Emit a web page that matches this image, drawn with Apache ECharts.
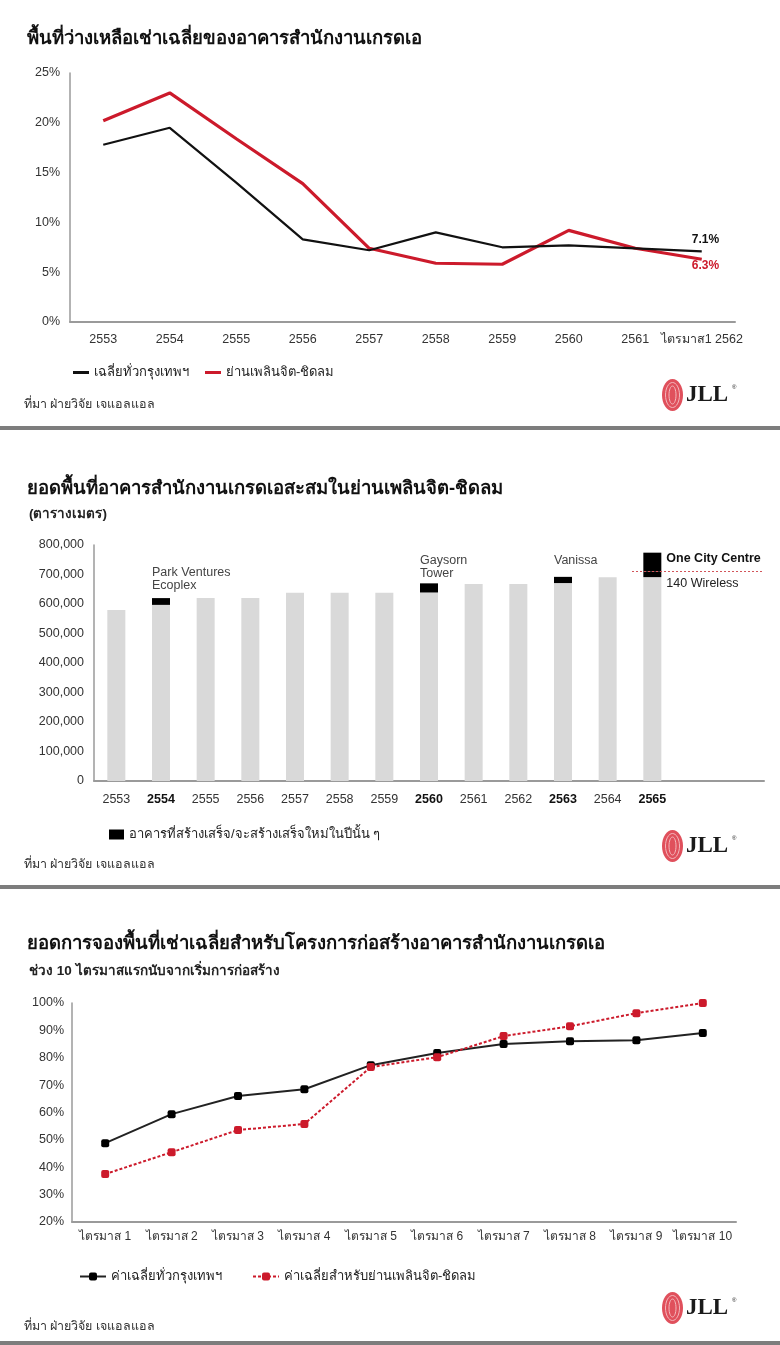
<!DOCTYPE html>
<html><head><meta charset="utf-8">
<script src="https://cdn.jsdelivr.net/npm/echarts@6/dist/echarts.min.js"></script>
<style>html,body{margin:0;padding:0;background:#fff}#c{width:780px;height:1345px}</style>
</head><body><div id="c"></div>
<script>
// ---- Chart 1 data: vacancy rate (%)
const years1 = ['2553','2554','2555','2556','2557','2558','2559','2560','2561','ไตรมาส1 2562'];
const bkkVacancy = [17.8, 19.5, 14.0, 8.3, 7.2, 9.0, 7.5, 7.7, 7.4, 7.1];
const ploenchitVacancy = [20.2, 23.0, 18.4, 13.9, 7.4, 5.9, 5.8, 9.2, 7.4, 6.3];
const vacancyTicks = [0, 25, 5];

// ---- Chart 2 data: cumulative Grade A stock (sq m)
const years2 = ['2553','2554','2555','2556','2557','2558','2559','2560','2561','2562','2563','2564','2565'];
const boldYears = ['2554','2560','2563','2565'];
const existingStock = [580000, 597000, 620000, 620000, 638000, 638000, 638000, 639000, 668000, 668000, 671000, 691000, 691000];
const newSupply = [null, 23000, null, null, null, null, null, 31000, null, null, 21000, null, 20000];
const newSupplyTop = [null, null, null, null, null, null, null, null, null, null, null, null, 63000];
const projectNames = ['', 'Park Ventures\nEcoplex', '', '', '', '', '', 'Gaysorn\nTower', '', '', 'Vanissa', '', '140 Wireless'];
const projectNamesTop = ['', '', '', '', '', '', '', '', '', '', '', '', 'One City Centre'];
const stockTicks = [0, 800000, 100000];

// ---- Chart 3 data: pre-leasing (%)
const quarters = ['ไตรมาส 1','ไตรมาส 2','ไตรมาส 3','ไตรมาส 4','ไตรมาส 5','ไตรมาส 6','ไตรมาส 7','ไตรมาส 8','ไตรมาส 9','ไตรมาส 10'];
const bkkPreLease = [48.8, 59.4, 66.0, 68.5, 77.3, 81.7, 85.0, 86.0, 86.4, 89.0];
const ploenchitPreLease = [37.5, 45.5, 53.6, 55.8, 76.6, 80.2, 87.9, 91.5, 96.3, 100];
const preLeaseTicks = [20, 100, 10];

const FONT = '"Liberation Sans", Arial, "Noto Sans", "DejaVu Sans", sans-serif';
const RED = '#cc1a2b';
const AX = '#9a9a9a';
const LBL = '#333';
const AXF = 12.5;

const chart = echarts.init(document.getElementById('c'));

function jllLogo(x, y) {
  return { type: 'group', x: x, y: y, children: [
    { type: 'ellipse', shape: { cx: 10.5, cy: 16, rx: 10.5, ry: 16 }, style: { fill: '#e0505c' } },
    { type: 'ellipse', shape: { cx: 10.5, cy: 16, rx: 7, ry: 12.5 }, style: { fill: 'none', stroke: '#f4b8bd', lineWidth: 1 } },
    { type: 'ellipse', shape: { cx: 10.5, cy: 16, rx: 3.5, ry: 9 }, style: { fill: 'none', stroke: '#f4b8bd', lineWidth: 1 } },
    { type: 'text', x: 24, y: 5, style: { text: 'JLL', font: 'bold 23px "Liberation Serif", serif', fill: '#1a1a1a' } },
    { type: 'text', x: 70, y: 5, style: { text: '®', font: '6px sans-serif', fill: '#1a1a1a' } }
  ]};
}
function sep(y) {
  return { type: 'rect', shape: { x: 0, y: y, width: 780, height: 4 }, style: { fill: '#7d7d7d' } };
}
function source(y) {
  return { type: 'text', x: 24, y: y, style: { text: 'ที่มา ฝ่ายวิจัย เจแอลแอล', font: '12.5px ' + FONT, fill: '#333' } };
}

const labelDist = [0, 6, 0, 0, 0, 0, 0, 3, 0, 0, 10, 0, 0];
const newData = newSupply.map((v, i) => {
  if (v == null) return null;
  if (i === 12) return { value: v, label: { show: true, position: 'right', distance: 5, offset: [0, 9], formatter: projectNames[i], color: '#222', fontSize: 12.5, fontFamily: FONT } };
  return { value: v, label: { show: true, position: 'top', align: 'left', distance: labelDist[i], offset: [-9, 0], formatter: projectNames[i], color: '#444', fontSize: 12.5, lineHeight: 13, fontFamily: FONT } };
});
const newTopData = newSupplyTop.map((v, i) => v == null ? null : { value: v, label: { show: true, position: 'right', distance: 5, offset: [0, -3], formatter: projectNamesTop[i], color: '#111', fontWeight: 'bold', fontSize: 12.5, fontFamily: FONT } });

const cats2 = years2.concat([' ', '  ']);
const NEWNAME = 'อาคารที่สร้างเสร็จ/จะสร้างเสร็จใหม่ในปีนั้น ๆ';
const dividerValue = existingStock[12] + newSupply[12];

chart.setOption({
  animation: false,
  textStyle: { fontFamily: FONT },
  title: [
    { text: 'พื้นที่ว่างเหลือเช่าเฉลี่ยของอาคารสำนักงานเกรดเอ', left: 22, top: 24, textStyle: { fontSize: 18.5, fontWeight: 'bold', color: '#111', fontFamily: FONT } },
    { text: 'ยอดพื้นที่อาคารสำนักงานเกรดเอสะสมในย่านเพลินจิต-ชิดลม', left: 22, top: 474, textStyle: { fontSize: 18.5, fontWeight: 'bold', color: '#111', fontFamily: FONT } },
    { text: '(ตารางเมตร)', left: 24, top: 502, textStyle: { fontSize: 13.5, fontWeight: 'bold', color: '#222', fontFamily: FONT } },
    { text: 'ยอดการจองพื้นที่เช่าเฉลี่ยสำหรับโครงการก่อสร้างอาคารสำนักงานเกรดเอ', left: 22, top: 929, textStyle: { fontSize: 18.5, fontWeight: 'bold', color: '#111', fontFamily: FONT } },
    { text: 'ช่วง 10 ไตรมาสแรกนับจากเริ่มการก่อสร้าง', left: 24, top: 959, textStyle: { fontSize: 13.5, fontWeight: 'bold', color: '#222', fontFamily: FONT } }
  ],
  legend: [
    { data: [{ name: 'เฉลี่ยทั่วกรุงเทพฯ', icon: 'rect' }, { name: 'ย่านเพลินจิต-ชิดลม', icon: 'rect' }], left: 68, top: 361, itemWidth: 16, itemHeight: 3, itemGap: 16, textStyle: { fontSize: 13, color: '#222', fontFamily: FONT } },
    { data: [{ name: NEWNAME, icon: 'rect' }], left: 104, top: 823, itemWidth: 15, itemHeight: 10, textStyle: { fontSize: 13, color: '#222', fontFamily: FONT } },
    { data: ['ค่าเฉลี่ยทั่วกรุงเทพฯ', 'ค่าเฉลี่ยสำหรับย่านเพลินจิต-ชิดลม'], left: 74, top: 1265, itemWidth: 26, itemHeight: 10, itemGap: 30, textStyle: { fontSize: 13, color: '#222', fontFamily: FONT } }
  ],
  grid: [
    { left: 70, top: 73, width: 665, height: 249 },
    { left: 94, top: 545, width: 670, height: 236 },
    { left: 72, top: 1003, width: 664, height: 219 }
  ],
  xAxis: [
    { type: 'category', gridIndex: 0, data: years1, axisLine: { lineStyle: { color: AX, width: 2 } }, axisTick: { show: false }, axisLabel: { color: LBL, fontSize: AXF, margin: 11, interval: 0 } },
    { type: 'category', gridIndex: 1, data: cats2, axisLine: { lineStyle: { color: AX, width: 2 } }, axisTick: { show: false },
      axisLabel: { color: LBL, fontSize: AXF, margin: 12, interval: 0, formatter: v => boldYears.includes(v) ? '{b|' + v + '}' : v, rich: { b: { fontWeight: 'bold', fontSize: AXF, color: '#111' } } } },
    { type: 'category', gridIndex: 2, data: quarters, axisLine: { lineStyle: { color: AX, width: 2 } }, axisTick: { show: false }, axisLabel: { color: LBL, fontSize: 12, margin: 9, interval: 0 } }
  ],
  yAxis: [
    { type: 'value', gridIndex: 0, min: vacancyTicks[0], max: vacancyTicks[1], interval: vacancyTicks[2], axisLine: { show: true, lineStyle: { color: AX, width: 1.5 } }, splitLine: { show: false }, axisLabel: { color: LBL, fontSize: AXF, formatter: '{value}%', margin: 10 } },
    { type: 'value', gridIndex: 1, min: stockTicks[0], max: stockTicks[1], interval: stockTicks[2], axisLine: { show: true, lineStyle: { color: AX, width: 1.5 } }, splitLine: { show: false }, axisLabel: { color: LBL, fontSize: AXF, margin: 10, formatter: v => v.toLocaleString('en-US') } },
    { type: 'value', gridIndex: 2, min: preLeaseTicks[0], max: preLeaseTicks[1], interval: preLeaseTicks[2], axisLine: { show: true, lineStyle: { color: AX, width: 1.5 } }, splitLine: { show: false }, axisLabel: { color: LBL, fontSize: AXF, formatter: '{value}%', margin: 8 } }
  ],
  series: [
    { name: 'เฉลี่ยทั่วกรุงเทพฯ', type: 'line', xAxisIndex: 0, yAxisIndex: 0, data: bkkVacancy, symbol: 'none', lineStyle: { color: '#111', width: 2.2 }, itemStyle: { color: '#111' },
      endLabel: { show: true, formatter: '{c}%', distance: 0, offset: [-10, -12], color: '#111', fontWeight: 'bold', fontSize: 12, fontFamily: FONT } },
    { name: 'ย่านเพลินจิต-ชิดลม', type: 'line', xAxisIndex: 0, yAxisIndex: 0, data: ploenchitVacancy, symbol: 'none', lineStyle: { color: RED, width: 3.2 }, itemStyle: { color: RED }, z: 1,
      endLabel: { show: true, formatter: '{c}%', distance: 0, offset: [-10, 6], color: RED, fontWeight: 'bold', fontSize: 12, fontFamily: FONT } },

    { name: 'stock', type: 'bar', xAxisIndex: 1, yAxisIndex: 1, stack: 'total', data: existingStock, barWidth: 18, itemStyle: { color: '#d9d9d9' } },
    { name: NEWNAME, type: 'bar', xAxisIndex: 1, yAxisIndex: 1, stack: 'total', data: newData, barWidth: 18, itemStyle: { color: '#000' },
      markLine: { silent: true, symbol: 'none', label: { show: false }, lineStyle: { color: '#d2555a', type: [2, 2], width: 1 },
        data: [[{ coord: [12, dividerValue], x: 632 }, { coord: [14, dividerValue], x: 763 }]] } },
    { name: NEWNAME, type: 'bar', xAxisIndex: 1, yAxisIndex: 1, stack: 'total', data: newTopData, barWidth: 18, itemStyle: { color: '#000' } },

    { name: 'ค่าเฉลี่ยทั่วกรุงเทพฯ', type: 'line', xAxisIndex: 2, yAxisIndex: 2, data: bkkPreLease, symbol: 'roundRect', symbolSize: 8, lineStyle: { color: '#222', width: 2 }, itemStyle: { color: '#000' } },
    { name: 'ค่าเฉลี่ยสำหรับย่านเพลินจิต-ชิดลม', type: 'line', xAxisIndex: 2, yAxisIndex: 2, data: ploenchitPreLease, symbol: 'roundRect', symbolSize: 8, lineStyle: { color: RED, width: 2, type: [3, 2] }, itemStyle: { color: RED } }
  ],
  graphic: [
    sep(426), sep(885), sep(1341),
    source(398), source(858), source(1320),
    jllLogo(662, 379), jllLogo(662, 830), jllLogo(662, 1292)
  ]
});
</script>
</body></html>
